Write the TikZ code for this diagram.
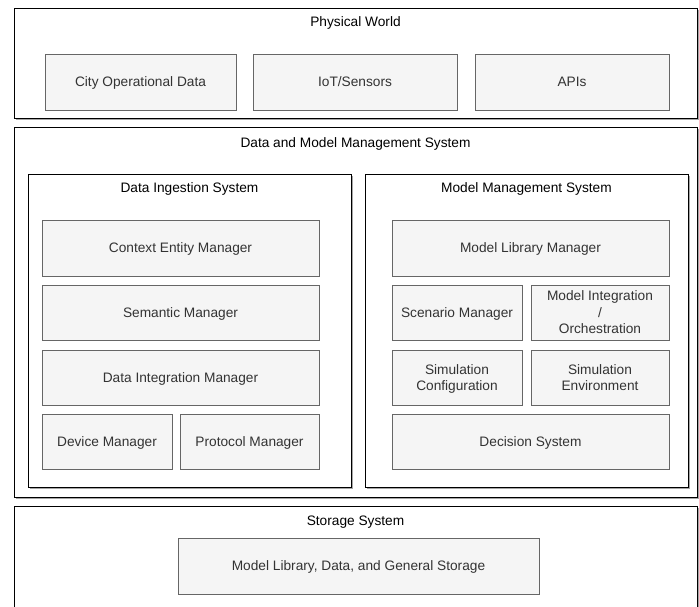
\documentclass[tikz,border=0pt]{standalone}
\usepackage{fontspec}
\setmainfont{Liberation Sans}
\usetikzlibrary{shadows}
\definecolor{boxfill}{HTML}{F5F5F5}
\definecolor{boxline}{HTML}{666666}
\definecolor{boxtext}{HTML}{333333}
\begin{document}
\begin{tikzpicture}[x=1pt,y=-1pt,
  every node/.style={font=\fontsize{13.7}{16.5}\selectfont},
  outer/.style={draw=black, fill=white, line width=1pt, inner sep=0pt,
    drop shadow={shadow xshift=1.5pt, shadow yshift=-1.5pt, fill=gray!70, opacity=1}},
  inbox/.style={draw=boxline, fill=boxfill, line width=1pt, text=boxtext, align=center, inner sep=0pt, text depth=0pt},
  title/.style={text=black, inner sep=0pt, text depth=0pt}]
\useasboundingbox (0,0) rectangle (699,606);
\clip (0,0) rectangle (699,606);
\fill[white] (0,0) rectangle (699,606);
% Physical World
\node[outer, minimum width=683pt, minimum height=110pt] (pw) at (355.5,63) {};
\node[title] (pwt) at (355.5,22) {Physical World};
\node[inbox, minimum width=191pt, minimum height=56pt] (city) at (140.5,82) {City Operational Data};
\node[inbox, minimum width=204pt, minimum height=56pt] (iot) at (355,82) {IoT/Sensors};
\node[inbox, minimum width=194pt, minimum height=56pt] (api) at (572,82) {APIs};
% DMMS
\node[outer, minimum width=683pt, minimum height=370pt] (dm) at (355.5,312) {};
\node[title] (dmt) at (355.5,143) {Data and Model Management System};
\node[outer, drop shadow={shadow xshift=1pt, shadow yshift=-1pt, fill=gray!70, opacity=1}, minimum width=323pt, minimum height=313pt] (dis) at (189.5,330.5) {};
\node[title] (dist) at (189.5,188) {Data Ingestion System};
\node[outer, drop shadow={shadow xshift=1pt, shadow yshift=-1pt, fill=gray!70, opacity=1}, minimum width=323pt, minimum height=313pt] (mms) at (526.5,330.5) {};
\node[title] (mmst) at (526.5,188) {Model Management System};
% left column
\node[inbox, minimum width=277pt, minimum height=56pt] (cem) at (180.5,248) {Context Entity Manager};
\node[inbox, minimum width=277pt, minimum height=55pt] (sem) at (180.5,312.5) {Semantic Manager};
\node[inbox, minimum width=277pt, minimum height=55pt] (dim) at (180.5,377.5) {Data Integration Manager};
\node[inbox, minimum width=130pt, minimum height=55pt] (dev) at (107,441.5) {Device Manager};
\node[inbox, minimum width=139pt, minimum height=55pt] (pro) at (249.5,441.5) {Protocol Manager};
% right column
\node[inbox, minimum width=277pt, minimum height=56pt] (mlm) at (530.5,248) {Model Library Manager};
\node[inbox, minimum width=130pt, minimum height=55pt] (scn) at (457,312.5) {Scenario Manager};
\node[inbox, minimum width=138pt, minimum height=55pt] (mio) at (600,312.5) {Model Integration\\/\\Orchestration};
\node[inbox, minimum width=130pt, minimum height=55pt] (sc) at (457,377.5) {Simulation\\Configuration};
\node[inbox, minimum width=138pt, minimum height=55pt] (se) at (600,377.5) {Simulation\\Environment};
\node[inbox, minimum width=277pt, minimum height=55pt] (dec) at (530.5,441.5) {Decision System};
% Storage
\node[outer, minimum width=683pt, minimum height=130pt] (st) at (355.5,571) {};
\node[title] (stt) at (355.5,521) {Storage System};
\node[inbox, minimum width=361pt, minimum height=56pt] (mld) at (358.5,566) {Model Library, Data, and General Storage};
\end{tikzpicture}
\end{document}
